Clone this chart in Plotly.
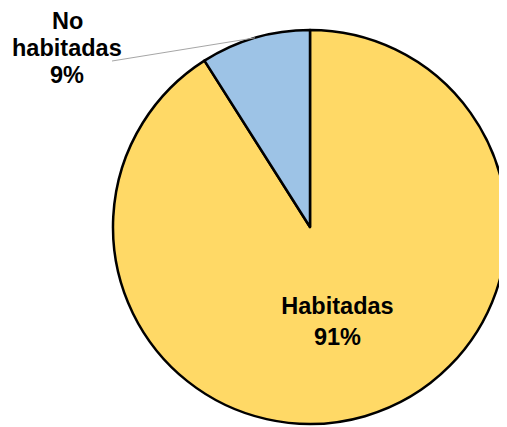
import math
import plotly.graph_objects as go

# ---- data ----
labels = ["Habitadas", "No habitadas"]
values = [91, 9]
colors = ["#FFD966", "#9DC3E6"]

SCREEN_W, SCREEN_H = 507, 427
OFF = 8  # default page body margin
W, H = SCREEN_W - OFF, SCREEN_H - OFF
FONT = "Arial, 'Liberation Sans', sans-serif"
FS = 23.5


def px(x):  # screen x -> paper
    return (x - OFF) / W


def py(y):  # screen y -> paper
    return 1 - (y - OFF) / H


# pie placement (screen pixels)
left_s, top_s, size_s = 113, 30, 394
dom_x = [px(left_s), min(1.0, px(left_s + size_s))]
dom_y = [py(top_s + size_s), py(top_s)]
cx, cy, r = left_s + size_s / 2, top_s + size_s / 2, size_s / 2

total = sum(values)
pct = [round(v / total * 100) for v in values]

fig = go.Figure(go.Pie(
    labels=labels,
    values=values,
    sort=False,
    direction="counterclockwise",
    rotation=0,
    marker=dict(colors=colors, line=dict(color="#000000", width=2.5)),
    text=[f"<b>{labels[0]}</b><br><b>{pct[0]}%</b>", ""],
    textinfo="text",
    textposition=["inside", "none"],
    insidetextorientation="horizontal",
    insidetextfont=dict(family=FONT, size=FS, color="#000000"),
    domain=dict(x=dom_x, y=dom_y),
    showlegend=False,
    hoverinfo="label+percent",
))

# leader line for the small slice: from label to the mid-point of its arc
mid_deg = values[1] / total * 360 / 2  # measured from 12 o'clock, to the left
ex = cx - r * math.sin(math.radians(mid_deg))
ey = cy - r * math.cos(math.radians(mid_deg))
sx, sy = 112, 61
fig.add_shape(type="line", xref="paper", yref="paper",
              x0=px(sx), y0=py(sy), x1=px(ex), y1=py(ey),
              line=dict(color="#A6A6A6", width=1))

# outside label lines
out_lines = ["No", "habitadas", f"{pct[1]}%"]
line_y = [21, 48, 75]
for txt, yy in zip(out_lines, line_y):
    fig.add_annotation(x=px(67), y=py(yy), xref="paper", yref="paper",
                       text=f"<b>{txt}</b>", showarrow=False,
                       xanchor="center", yanchor="middle",
                       font=dict(family=FONT, size=FS, color="#000000"))

fig.update_layout(
    width=W, height=H,
    margin=dict(l=0, r=0, t=0, b=0),
    paper_bgcolor="#FFFFFF",
    plot_bgcolor="#FFFFFF",
)

fig.write_html("out.html")
